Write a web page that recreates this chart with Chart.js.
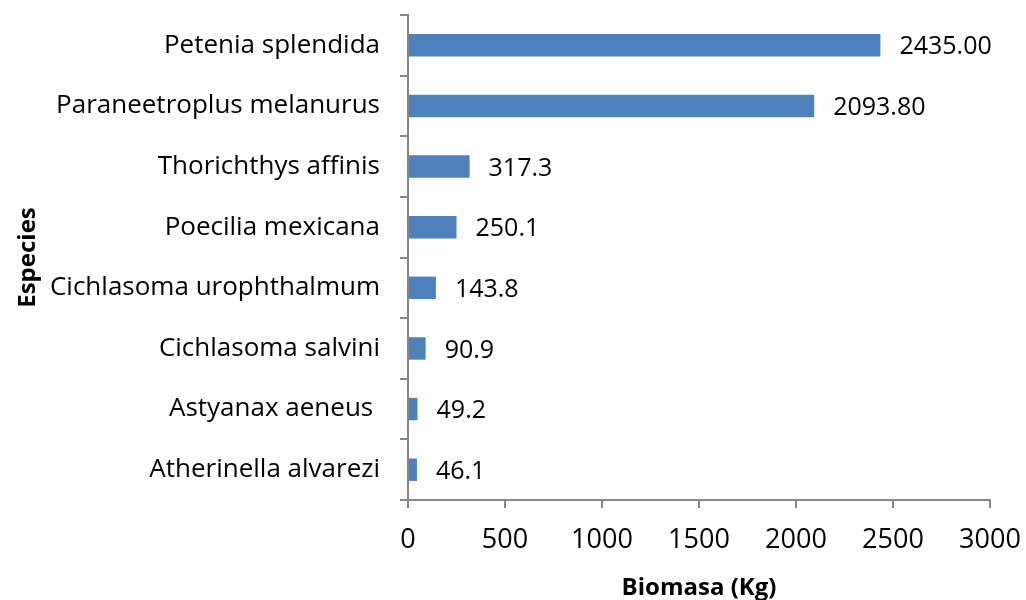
<!DOCTYPE html>
<html><head><meta charset="utf-8">
<script src="https://cdn.jsdelivr.net/npm/chart.js@4"></script>
<style>html,body{margin:0;padding:0;background:#fff}#wrap{width:1026px;height:600px}</style>
</head><body><div id="wrap"><canvas id="c" width="1026" height="600"></canvas></div>
<script>
const categories = ["Petenia splendida","Paraneetroplus melanurus","Thorichthys affinis","Poecilia mexicana","Cichlasoma urophthalmum","Cichlasoma salvini","Astyanax aeneus ","Atherinella alvarezi"];
const biomasa = [2435.00, 2093.80, 317.3, 250.1, 143.8, 90.9, 49.2, 46.1];
const valueLabels = ["2435.00","2093.80","317.3","250.1","143.8","90.9","49.2","46.1"];
const xTicks = [0,500,1000,1500,2000,2500,3000];

const FONT = "'Open Sans', sans-serif";
const axisGray = "#868686";

const labelPlugin = {
  id: 'valueLabels',
  afterDatasetsDraw(chart) {
    const ctx = chart.ctx;
    const meta = chart.getDatasetMeta(0);
    ctx.save();
    ctx.font = "25px " + FONT;
    ctx.fillStyle = "#000";
    ctx.textBaseline = "middle";
    ctx.textAlign = "left";
    meta.data.forEach((bar, i) => {
      ctx.fillText(valueLabels[i], bar.x + 19, bar.y + 2);
    });
    ctx.restore();
  }
};

new Chart(document.getElementById('c'), {
  type: 'bar',
  data: {
    labels: categories,
    datasets: [{
      data: biomasa,
      backgroundColor: "#4f81bd",
      borderWidth: 0,
      categoryPercentage: 1,
      barPercentage: 0.37
    }]
  },
  options: {
    indexAxis: 'y',
    responsive: false,
    animation: false,
    layout: { padding: { top: 15, right: 36, left: 0, bottom: 0 } },
    plugins: { legend: { display: false }, tooltip: { enabled: false } },
    scales: {
      x: {
        min: 0, max: 3000,
        afterBuildTicks(axis) { axis.ticks = xTicks.map(v => ({ value: v })); },
        afterFit(axis) { axis.height = 100; axis.paddingLeft = 0; axis.paddingRight = 0; },
        border: { display: true, color: axisGray, width: 2 },
        grid: { display: true, drawOnChartArea: false, drawTicks: true, tickLength: 8, color: axisGray, lineWidth: 2 },
        ticks: { color: "#000", font: { family: FONT, size: 27 }, padding: 16, maxRotation: 0, callback: (v) => String(v) },
        title: { display: true, text: "Biomasa (Kg)", color: "#000", font: { family: FONT, size: 24, weight: "bold", lineHeight: 1 }, padding: { top: 0, bottom: 0 } }
      },
      y: {
        afterFit(axis) { axis.width = 408; axis.paddingTop = 0; axis.paddingBottom = 0; },
        border: { display: true, color: axisGray, width: 2 },
        grid: { display: true, offset: true, drawOnChartArea: false, drawTicks: true, tickLength: 8, color: axisGray, lineWidth: 2 },
        ticks: { color: "#000", font: { family: FONT, size: 26 }, padding: 20 },
        title: { display: true, text: "Especies", color: "#000", font: { family: FONT, size: 24, weight: "bold" }, padding: { top: 14, bottom: 0 } }
      }
    }
  },
  plugins: [labelPlugin]
});
</script></body></html>
